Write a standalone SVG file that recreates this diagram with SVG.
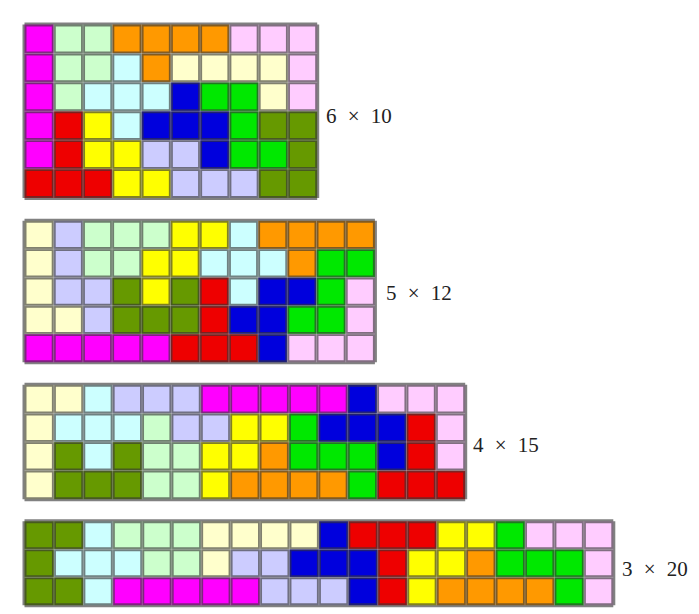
<svg xmlns="http://www.w3.org/2000/svg" width="699" height="614" viewBox="0 0 699 614">
<style>
rect{height:1px}
.mg{fill:#ff00ff}.lg{fill:#ccffcc}.or{fill:#ff9900}.pk{fill:#ffccff}.cy{fill:#ccffff}.ly{fill:#ffffcc}
.bl{fill:#0000dd}.gr{fill:#00e800}.rd{fill:#ee0000}.ol{fill:#669900}.ye{fill:#ffff00}.lv{fill:#ccccff}
.dk{fill:none;stroke:#333333;stroke-opacity:.62;stroke-width:4;vector-effect:non-scaling-stroke}
.lt{fill:none;stroke:#ffffff;stroke-opacity:.3;stroke-width:.8;vector-effect:non-scaling-stroke}
.lbl{font-family:"Liberation Serif","Times New Roman",serif;font-size:21px;fill:#222;word-spacing:6px}
</style>
<rect width="699" height="614" fill="#ffffff" style="height:614px"/>

<g id="grid6x10" transform="translate(24.5,24.5) scale(29.27,28.9)">
<rect class="mg" x="0" y="0" width="1" height="1"/><rect class="lg" x="1" y="0" width="2" height="1"/><rect class="or" x="3" y="0" width="4" height="1"/><rect class="pk" x="7" y="0" width="3" height="1"/>
<rect class="mg" x="0" y="1" width="1" height="1"/><rect class="lg" x="1" y="1" width="2" height="1"/><rect class="cy" x="3" y="1" width="1" height="1"/><rect class="or" x="4" y="1" width="1" height="1"/><rect class="ly" x="5" y="1" width="4" height="1"/><rect class="pk" x="9" y="1" width="1" height="1"/>
<rect class="mg" x="0" y="2" width="1" height="1"/><rect class="lg" x="1" y="2" width="1" height="1"/><rect class="cy" x="2" y="2" width="3" height="1"/><rect class="bl" x="5" y="2" width="1" height="1"/><rect class="gr" x="6" y="2" width="2" height="1"/><rect class="ly" x="8" y="2" width="1" height="1"/><rect class="pk" x="9" y="2" width="1" height="1"/>
<rect class="mg" x="0" y="3" width="1" height="1"/><rect class="rd" x="1" y="3" width="1" height="1"/><rect class="ye" x="2" y="3" width="1" height="1"/><rect class="cy" x="3" y="3" width="1" height="1"/><rect class="bl" x="4" y="3" width="3" height="1"/><rect class="gr" x="7" y="3" width="1" height="1"/><rect class="ol" x="8" y="3" width="2" height="1"/>
<rect class="mg" x="0" y="4" width="1" height="1"/><rect class="rd" x="1" y="4" width="1" height="1"/><rect class="ye" x="2" y="4" width="2" height="1"/><rect class="lv" x="4" y="4" width="2" height="1"/><rect class="bl" x="6" y="4" width="1" height="1"/><rect class="gr" x="7" y="4" width="2" height="1"/><rect class="ol" x="9" y="4" width="1" height="1"/>
<rect class="rd" x="0" y="5" width="3" height="1"/><rect class="ye" x="3" y="5" width="2" height="1"/><rect class="lv" x="5" y="5" width="3" height="1"/><rect class="ol" x="8" y="5" width="2" height="1"/>
<path class="dk" d="M0 0V6M1 0V6M2 0V6M3 0V6M4 0V6M5 0V6M6 0V6M7 0V6M8 0V6M9 0V6M10 0V6M0 0H10M0 1H10M0 2H10M0 3H10M0 4H10M0 5H10M0 6H10"/>
<path class="lt" d="M1 0V6M2 0V6M3 0V6M4 0V6M5 0V6M6 0V6M7 0V6M8 0V6M9 0V6M0 1H10M0 2H10M0 3H10M0 4H10M0 5H10"/>
</g>
<text class="lbl" x="326" y="123">6 × 10</text>

<g id="grid5x12" transform="translate(24.5,220.8) scale(29.2,28.3)">
<rect class="ly" x="0" y="0" width="1" height="1"/><rect class="lv" x="1" y="0" width="1" height="1"/><rect class="lg" x="2" y="0" width="3" height="1"/><rect class="ye" x="5" y="0" width="2" height="1"/><rect class="cy" x="7" y="0" width="1" height="1"/><rect class="or" x="8" y="0" width="4" height="1"/>
<rect class="ly" x="0" y="1" width="1" height="1"/><rect class="lv" x="1" y="1" width="1" height="1"/><rect class="lg" x="2" y="1" width="2" height="1"/><rect class="ye" x="4" y="1" width="2" height="1"/><rect class="cy" x="6" y="1" width="3" height="1"/><rect class="or" x="9" y="1" width="1" height="1"/><rect class="gr" x="10" y="1" width="2" height="1"/>
<rect class="ly" x="0" y="2" width="1" height="1"/><rect class="lv" x="1" y="2" width="2" height="1"/><rect class="ol" x="3" y="2" width="1" height="1"/><rect class="ye" x="4" y="2" width="1" height="1"/><rect class="ol" x="5" y="2" width="1" height="1"/><rect class="rd" x="6" y="2" width="1" height="1"/><rect class="cy" x="7" y="2" width="1" height="1"/><rect class="bl" x="8" y="2" width="2" height="1"/><rect class="gr" x="10" y="2" width="1" height="1"/><rect class="pk" x="11" y="2" width="1" height="1"/>
<rect class="ly" x="0" y="3" width="2" height="1"/><rect class="lv" x="2" y="3" width="1" height="1"/><rect class="ol" x="3" y="3" width="3" height="1"/><rect class="rd" x="6" y="3" width="1" height="1"/><rect class="bl" x="7" y="3" width="2" height="1"/><rect class="gr" x="9" y="3" width="2" height="1"/><rect class="pk" x="11" y="3" width="1" height="1"/>
<rect class="mg" x="0" y="4" width="5" height="1"/><rect class="rd" x="5" y="4" width="3" height="1"/><rect class="bl" x="8" y="4" width="1" height="1"/><rect class="pk" x="9" y="4" width="3" height="1"/>
<path class="dk" d="M0 0V5M1 0V5M2 0V5M3 0V5M4 0V5M5 0V5M6 0V5M7 0V5M8 0V5M9 0V5M10 0V5M11 0V5M12 0V5M0 0H12M0 1H12M0 2H12M0 3H12M0 4H12M0 5H12"/>
<path class="lt" d="M1 0V5M2 0V5M3 0V5M4 0V5M5 0V5M6 0V5M7 0V5M8 0V5M9 0V5M10 0V5M11 0V5M0 1H12M0 2H12M0 3H12M0 4H12"/>
</g>
<text class="lbl" x="386" y="300">5 × 12</text>

<g id="grid4x15" transform="translate(24.5,384.8) scale(29.38,28.6)">
<rect class="ly" x="0" y="0" width="2" height="1"/><rect class="cy" x="2" y="0" width="1" height="1"/><rect class="lv" x="3" y="0" width="3" height="1"/><rect class="mg" x="6" y="0" width="5" height="1"/><rect class="bl" x="11" y="0" width="1" height="1"/><rect class="pk" x="12" y="0" width="3" height="1"/>
<rect class="ly" x="0" y="1" width="1" height="1"/><rect class="cy" x="1" y="1" width="3" height="1"/><rect class="lg" x="4" y="1" width="1" height="1"/><rect class="lv" x="5" y="1" width="2" height="1"/><rect class="ye" x="7" y="1" width="2" height="1"/><rect class="gr" x="9" y="1" width="1" height="1"/><rect class="bl" x="10" y="1" width="3" height="1"/><rect class="rd" x="13" y="1" width="1" height="1"/><rect class="pk" x="14" y="1" width="1" height="1"/>
<rect class="ly" x="0" y="2" width="1" height="1"/><rect class="ol" x="1" y="2" width="1" height="1"/><rect class="cy" x="2" y="2" width="1" height="1"/><rect class="ol" x="3" y="2" width="1" height="1"/><rect class="lg" x="4" y="2" width="2" height="1"/><rect class="ye" x="6" y="2" width="2" height="1"/><rect class="or" x="8" y="2" width="1" height="1"/><rect class="gr" x="9" y="2" width="3" height="1"/><rect class="bl" x="12" y="2" width="1" height="1"/><rect class="rd" x="13" y="2" width="1" height="1"/><rect class="pk" x="14" y="2" width="1" height="1"/>
<rect class="ly" x="0" y="3" width="1" height="1"/><rect class="ol" x="1" y="3" width="3" height="1"/><rect class="lg" x="4" y="3" width="2" height="1"/><rect class="ye" x="6" y="3" width="1" height="1"/><rect class="or" x="7" y="3" width="4" height="1"/><rect class="gr" x="11" y="3" width="1" height="1"/><rect class="rd" x="12" y="3" width="3" height="1"/>
<path class="dk" d="M0 0V4M1 0V4M2 0V4M3 0V4M4 0V4M5 0V4M6 0V4M7 0V4M8 0V4M9 0V4M10 0V4M11 0V4M12 0V4M13 0V4M14 0V4M15 0V4M0 0H15M0 1H15M0 2H15M0 3H15M0 4H15"/>
<path class="lt" d="M1 0V4M2 0V4M3 0V4M4 0V4M5 0V4M6 0V4M7 0V4M8 0V4M9 0V4M10 0V4M11 0V4M12 0V4M13 0V4M14 0V4M0 1H15M0 2H15M0 3H15"/>
</g>
<text class="lbl" x="473" y="452">4 × 15</text>

<g id="grid3x20" transform="translate(24.5,521.3) scale(29.44,28)">
<rect class="ol" x="0" y="0" width="2" height="1"/><rect class="cy" x="2" y="0" width="1" height="1"/><rect class="lg" x="3" y="0" width="3" height="1"/><rect class="ly" x="6" y="0" width="4" height="1"/><rect class="bl" x="10" y="0" width="1" height="1"/><rect class="rd" x="11" y="0" width="3" height="1"/><rect class="ye" x="14" y="0" width="2" height="1"/><rect class="gr" x="16" y="0" width="1" height="1"/><rect class="pk" x="17" y="0" width="3" height="1"/>
<rect class="ol" x="0" y="1" width="1" height="1"/><rect class="cy" x="1" y="1" width="3" height="1"/><rect class="lg" x="4" y="1" width="2" height="1"/><rect class="ly" x="6" y="1" width="1" height="1"/><rect class="lv" x="7" y="1" width="2" height="1"/><rect class="bl" x="9" y="1" width="3" height="1"/><rect class="rd" x="12" y="1" width="1" height="1"/><rect class="ye" x="13" y="1" width="2" height="1"/><rect class="or" x="15" y="1" width="1" height="1"/><rect class="gr" x="16" y="1" width="3" height="1"/><rect class="pk" x="19" y="1" width="1" height="1"/>
<rect class="ol" x="0" y="2" width="2" height="1"/><rect class="cy" x="2" y="2" width="1" height="1"/><rect class="mg" x="3" y="2" width="5" height="1"/><rect class="lv" x="8" y="2" width="3" height="1"/><rect class="bl" x="11" y="2" width="1" height="1"/><rect class="rd" x="12" y="2" width="1" height="1"/><rect class="ye" x="13" y="2" width="1" height="1"/><rect class="or" x="14" y="2" width="4" height="1"/><rect class="gr" x="18" y="2" width="1" height="1"/><rect class="pk" x="19" y="2" width="1" height="1"/>
<path class="dk" d="M0 0V3M1 0V3M2 0V3M3 0V3M4 0V3M5 0V3M6 0V3M7 0V3M8 0V3M9 0V3M10 0V3M11 0V3M12 0V3M13 0V3M14 0V3M15 0V3M16 0V3M17 0V3M18 0V3M19 0V3M20 0V3M0 0H20M0 1H20M0 2H20M0 3H20"/>
<path class="lt" d="M1 0V3M2 0V3M3 0V3M4 0V3M5 0V3M6 0V3M7 0V3M8 0V3M9 0V3M10 0V3M11 0V3M12 0V3M13 0V3M14 0V3M15 0V3M16 0V3M17 0V3M18 0V3M19 0V3M0 1H20M0 2H20"/>
</g>
<text class="lbl" x="622" y="576">3 × 20</text>
</svg>
